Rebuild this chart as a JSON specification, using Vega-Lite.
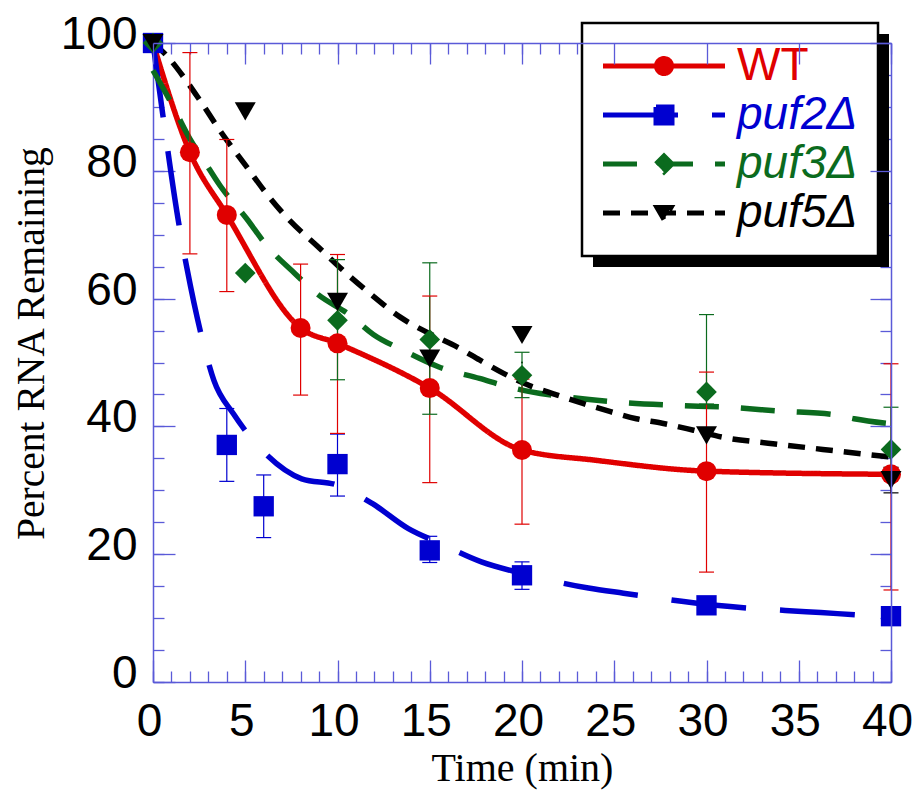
{
  "$schema": "https://vega.github.io/schema/vega-lite/v6.json",
  "width": 738,
  "height": 639,
  "autosize": {"type": "none"},
  "padding": {"left": 153, "top": 43, "right": 25, "bottom": 110},
  "background": "white",
  "config": {
    "view": {"stroke": null},
    "axis": {"grid": false, "domainColor": "#5a5ad8", "tickColor": "#5a5ad8", "tickWidth": 1.3, "domainWidth": 1.5},
    "legend": {"strokeWidth": 2.5}
  },
  "datasets": {
    "pts": [
      {"series": "WT", "t": 0, "y": 100},
      {"series": "WT", "t": 2, "y": 82.9, "lo": 67.0, "hi": 98.5},
      {"series": "WT", "t": 4, "y": 73.1, "lo": 61.1, "hi": 84.9},
      {"series": "WT", "t": 8, "y": 55.4, "lo": 44.9, "hi": 65.4},
      {"series": "WT", "t": 10, "y": 53.0, "lo": 38.9, "hi": 66.9},
      {"series": "WT", "t": 15, "y": 46.0, "lo": 31.2, "hi": 60.4},
      {"series": "WT", "t": 20, "y": 36.3, "lo": 24.7, "hi": 47.4},
      {"series": "WT", "t": 30, "y": 33.0, "lo": 17.2, "hi": 48.5},
      {"series": "WT", "t": 40, "y": 32.5, "lo": 14.4, "hi": 49.8},
      {"series": "puf2Δ", "t": 0, "y": 100},
      {"series": "puf2Δ", "t": 4, "y": 37.1, "lo": 31.4, "hi": 42.8},
      {"series": "puf2Δ", "t": 6, "y": 27.5, "lo": 22.6, "hi": 32.4},
      {"series": "puf2Δ", "t": 10, "y": 34.1, "lo": 29.1, "hi": 38.8},
      {"series": "puf2Δ", "t": 15, "y": 20.6, "lo": 18.7, "hi": 22.8},
      {"series": "puf2Δ", "t": 20, "y": 16.7, "lo": 14.5, "hi": 18.8},
      {"series": "puf2Δ", "t": 30, "y": 12.0},
      {"series": "puf2Δ", "t": 40, "y": 10.3},
      {"series": "puf3Δ", "t": 0, "y": 100},
      {"series": "puf3Δ", "t": 5, "y": 64.0},
      {"series": "puf3Δ", "t": 10, "y": 56.6, "lo": 47.3, "hi": 66.1},
      {"series": "puf3Δ", "t": 15, "y": 53.6, "lo": 41.9, "hi": 65.6},
      {"series": "puf3Δ", "t": 20, "y": 48.0, "lo": 44.5, "hi": 51.6},
      {"series": "puf3Δ", "t": 30, "y": 45.4, "lo": 43.5, "hi": 57.5},
      {"series": "puf3Δ", "t": 40, "y": 36.4, "lo": 33.0, "hi": 43.0},
      {"series": "puf5Δ", "t": 0, "y": 100},
      {"series": "puf5Δ", "t": 5, "y": 89.3},
      {"series": "puf5Δ", "t": 10, "y": 59.5},
      {"series": "puf5Δ", "t": 15, "y": 50.6},
      {"series": "puf5Δ", "t": 20, "y": 54.3},
      {"series": "puf5Δ", "t": 30, "y": 38.6},
      {"series": "puf5Δ", "t": 40, "y": 31.6, "lo": 29.6, "hi": 33.6}
    ],
    "curves": [
      {"series": "WT", "t": 0, "y": 100},
      {"series": "WT", "t": 2, "y": 82.9},
      {"series": "WT", "t": 4, "y": 73.1},
      {"series": "WT", "t": 8, "y": 55.4},
      {"series": "WT", "t": 10, "y": 53.0},
      {"series": "WT", "t": 15, "y": 46.0},
      {"series": "WT", "t": 20, "y": 36.3},
      {"series": "WT", "t": 24, "y": 34.7},
      {"series": "WT", "t": 30, "y": 33.0},
      {"series": "WT", "t": 40, "y": 32.5},
      {"series": "puf2Δ", "t": 0, "y": 100},
      {"series": "puf2Δ", "t": 0.54, "y": 88.6},
      {"series": "puf2Δ", "t": 1.46, "y": 70.7},
      {"series": "puf2Δ", "t": 1.83, "y": 64.9},
      {"series": "puf2Δ", "t": 2.71, "y": 53.2},
      {"series": "puf2Δ", "t": 3.3, "y": 47.2},
      {"series": "puf2Δ", "t": 4.35, "y": 42.0},
      {"series": "puf2Δ", "t": 5.26, "y": 38.4},
      {"series": "puf2Δ", "t": 6.07, "y": 35.8},
      {"series": "puf2Δ", "t": 8.06, "y": 31.8},
      {"series": "puf2Δ", "t": 10, "y": 30.8},
      {"series": "puf2Δ", "t": 11.9, "y": 27.9},
      {"series": "puf2Δ", "t": 13.84, "y": 24.0},
      {"series": "puf2Δ", "t": 15.55, "y": 21.7},
      {"series": "puf2Δ", "t": 17.8, "y": 18.8},
      {"series": "puf2Δ", "t": 20, "y": 17.0},
      {"series": "puf2Δ", "t": 23.6, "y": 14.7},
      {"series": "puf2Δ", "t": 25.5, "y": 13.9},
      {"series": "puf2Δ", "t": 30.5, "y": 12.0},
      {"series": "puf2Δ", "t": 35.4, "y": 11.0},
      {"series": "puf2Δ", "t": 37.1, "y": 10.7},
      {"series": "puf2Δ", "t": 40, "y": 10.1},
      {"series": "puf3Δ", "t": 0, "y": 95.7},
      {"series": "puf3Δ", "t": 1.1, "y": 90.0},
      {"series": "puf3Δ", "t": 2.0, "y": 85.0},
      {"series": "puf3Δ", "t": 2.8, "y": 81.4},
      {"series": "puf3Δ", "t": 3.63, "y": 77.7},
      {"series": "puf3Δ", "t": 5.08, "y": 72.5},
      {"series": "puf3Δ", "t": 6.16, "y": 68.3},
      {"series": "puf3Δ", "t": 7.7, "y": 63.9},
      {"series": "puf3Δ", "t": 8.87, "y": 60.8},
      {"series": "puf3Δ", "t": 10.68, "y": 57.4},
      {"series": "puf3Δ", "t": 11.94, "y": 54.4},
      {"series": "puf3Δ", "t": 13.57, "y": 51.9},
      {"series": "puf3Δ", "t": 15.5, "y": 49.3},
      {"series": "puf3Δ", "t": 17.7, "y": 47.5},
      {"series": "puf3Δ", "t": 19.4, "y": 46.1},
      {"series": "puf3Δ", "t": 20.5, "y": 45.4},
      {"series": "puf3Δ", "t": 22.4, "y": 44.6},
      {"series": "puf3Δ", "t": 25.2, "y": 43.8},
      {"series": "puf3Δ", "t": 28.3, "y": 43.3},
      {"series": "puf3Δ", "t": 31.1, "y": 43.0},
      {"series": "puf3Δ", "t": 34.0, "y": 42.4},
      {"series": "puf3Δ", "t": 37.0, "y": 41.8},
      {"series": "puf3Δ", "t": 38.0, "y": 41.2},
      {"series": "puf3Δ", "t": 40, "y": 40.4},
      {"series": "puf5Δ", "t": 0, "y": 100},
      {"series": "puf5Δ", "t": 0.65, "y": 98.3},
      {"series": "puf5Δ", "t": 1.73, "y": 94.4},
      {"series": "puf5Δ", "t": 2.55, "y": 91.0},
      {"series": "puf5Δ", "t": 3.63, "y": 86.3},
      {"series": "puf5Δ", "t": 5.08, "y": 80.6},
      {"series": "puf5Δ", "t": 6.16, "y": 76.4},
      {"series": "puf5Δ", "t": 7.42, "y": 72.2},
      {"series": "puf5Δ", "t": 8.87, "y": 68.3},
      {"series": "puf5Δ", "t": 10.5, "y": 63.9},
      {"series": "puf5Δ", "t": 11.76, "y": 60.8},
      {"series": "puf5Δ", "t": 13.4, "y": 57.1},
      {"series": "puf5Δ", "t": 15.0, "y": 54.5},
      {"series": "puf5Δ", "t": 16.5, "y": 52.4},
      {"series": "puf5Δ", "t": 17.7, "y": 50.4},
      {"series": "puf5Δ", "t": 19.0, "y": 48.3},
      {"series": "puf5Δ", "t": 20.4, "y": 46.4},
      {"series": "puf5Δ", "t": 21.7, "y": 45.1},
      {"series": "puf5Δ", "t": 23.3, "y": 43.6},
      {"series": "puf5Δ", "t": 24.8, "y": 42.3},
      {"series": "puf5Δ", "t": 26.2, "y": 41.2},
      {"series": "puf5Δ", "t": 27.6, "y": 40.5},
      {"series": "puf5Δ", "t": 29.3, "y": 39.4},
      {"series": "puf5Δ", "t": 30.9, "y": 38.3},
      {"series": "puf5Δ", "t": 33.6, "y": 37.3},
      {"series": "puf5Δ", "t": 36.3, "y": 36.4},
      {"series": "puf5Δ", "t": 40, "y": 35.2}
    ]
  },
  "resolve": {
    "scale": {"strokeWidth": "independent"},
    "axis": {"x": "independent", "y": "independent"}
  },
  "layer": [
    {
      "data": {"name": "pts"},
      "transform": [
        {"filter": "datum.t === 0 && datum.series === 'WT'"},
        {"fold": ["series"], "as": ["k", "lab"]}
      ],
      "mark": {"type": "point", "filled": true, "color": "black", "size": 4},
      "encoding": {
        "opacity": {"field": "k", "type": "nominal",
          "scale": {"domain": ["series"], "range": [1, 1]},
          "legend": {
            "orient": "none", "legendX": 400, "legendY": -10, "title": null,
            "padding": 0, "symbolSize": 4, "symbolOffset": 39, "labelOffset": 0,
            "symbolType": "M0,0H296V233H0Z", "symbolStrokeWidth": 0,
            "symbolFillColor": "black",
            "labelExpr": "''", "labelFontSize": 1,
            "fillColor": null, "strokeColor": null
          }
        }
      }
    },
    {
      "data": {"name": "curves"},
      "mark": {"type": "line", "interpolate": "monotone", "strokeCap": "butt"},
      "encoding": {
        "x": {"field": "t", "type": "quantitative", "scale": {"domain": [0, 40], "nice": false},
          "axis": {"orient": "bottom", "values": [0, 5, 10, 15, 20, 25, 30, 35, 40], "ticks": false, "domain": true,
            "labelFont": "Liberation Sans", "labelFontSize": 46, "labelColor": "black", "labelBaseline": "alphabetic",
            "labelPadding": 53, "labelOffset": -4, "labelFlush": false, "labelOverlap": false,
            "title": "Time (min)", "titleFont": "Liberation Serif", "titleFontSize": 40, "titleFontWeight": "normal",
            "titleColor": "black", "titleBaseline": "alphabetic", "titleY": 98}},
        "y": {"field": "y", "type": "quantitative", "scale": {"domain": [0, 100], "nice": false},
          "axis": {"orient": "left", "values": [0, 20, 40, 60, 80, 100], "ticks": false, "domain": true,
            "labelFont": "Liberation Sans", "labelFontSize": 46, "labelColor": "black", "labelBaseline": "alphabetic",
            "labelPadding": 16, "labelOffset": 5.5, "labelFlush": false, "labelOverlap": false,
            "title": "Percent RNA Remaining", "titleFont": "Liberation Serif", "titleFontSize": 39.5, "titleFontWeight": "normal",
            "titleColor": "black", "titleBaseline": "alphabetic", "titleX": -110, "titleY": 300}},
        "stroke": {"field": "series", "type": "nominal",
          "scale": {"domain": ["puf5Δ", "puf3Δ", "puf2Δ", "WT"], "range": ["#000000", "#0b6b1e", "#0000d0", "#e00000"]}, "legend": null},
        "strokeDash": {"field": "series", "type": "nominal",
          "scale": {"domain": ["puf5Δ", "puf3Δ", "puf2Δ", "WT"], "range": [[17, 11], [34, 22], [75, 34], [1, 0]]}, "legend": null},
        "strokeWidth": {"field": "series", "type": "nominal",
          "scale": {"domain": ["puf5Δ", "puf3Δ", "puf2Δ", "WT"], "range": [5.5, 5.5, 6.5, 6.5]}, "legend": null}
      }
    },
    {
      "data": {"name": "pts"},
      "transform": [{"filter": "isValid(datum.lo)"}],
      "mark": {"type": "rule", "strokeCap": "butt"},
      "encoding": {
        "x": {"field": "t", "type": "quantitative",
          "axis": {"orient": "bottom", "values": [0, 5, 10, 15, 20, 25, 30, 35, 40], "labels": false, "domain": false, "tickSize": -22, "title": null}},
        "y": {"field": "lo", "type": "quantitative", "scale": {"domain": [0, 100], "nice": false},
          "axis": {"orient": "left", "values": [0, 20, 40, 60, 80, 100], "labels": false, "domain": false, "tickSize": -22, "title": null}},
        "y2": {"field": "hi"},
        "stroke": {"field": "series", "type": "nominal", "legend": null},
        "strokeWidth": {"field": "series", "type": "nominal",
          "scale": {"domain": ["puf5Δ", "puf3Δ", "puf2Δ", "WT"], "range": [1.2, 1.2, 1.2, 2.7]}, "legend": null}
      }
    },
    {
      "data": {"name": "pts"},
      "transform": [{"filter": "isValid(datum.hi)"}],
      "mark": {"type": "point", "shape": "stroke", "filled": false, "size": 225, "opacity": 1},
      "encoding": {
        "x": {"field": "t", "type": "quantitative",
          "axis": {"orient": "bottom", "values": [0,1,2,3,4,5,6,7,8,9,10,11,12,13,14,15,16,17,18,19,20,21,22,23,24,25,26,27,28,29,30,31,32,33,34,35,36,37,38,39,40], "labels": false, "domain": false, "tickSize": -11, "title": null}},
        "y": {"field": "hi", "type": "quantitative", "scale": {"domain": [0, 100], "nice": false},
          "axis": {"orient": "left", "values": [0,5,10,15,20,25,30,35,40,45,50,55,60,65,70,75,80,85,90,95,100], "labels": false, "domain": false, "tickSize": -11, "title": null}},
        "stroke": {"field": "series", "type": "nominal", "legend": null},
        "strokeWidth": {"field": "series", "type": "nominal",
          "scale": {"domain": ["puf5Δ", "puf3Δ", "puf2Δ", "WT"], "range": [1.2, 1.2, 1.2, 2.7]}, "legend": null}
      }
    },
    {
      "data": {"name": "pts"},
      "transform": [{"filter": "isValid(datum.lo)"}],
      "mark": {"type": "point", "shape": "stroke", "filled": false, "size": 225, "opacity": 1},
      "encoding": {
        "x": {"field": "t", "type": "quantitative",
          "axis": {"orient": "top", "values": [0, 5, 10, 15, 20, 25, 30, 35, 40], "labels": false, "domain": true, "tickSize": -21, "title": null, "zindex": 1}},
        "y": {"field": "lo", "type": "quantitative", "scale": {"domain": [0, 100], "nice": false},
          "axis": {"orient": "right", "values": [0, 20, 40, 60, 80, 100], "labels": false, "domain": true, "tickSize": -21, "title": null, "zindex": 1}},
        "stroke": {"field": "series", "type": "nominal", "legend": null},
        "strokeWidth": {"field": "series", "type": "nominal",
          "scale": {"domain": ["puf5Δ", "puf3Δ", "puf2Δ", "WT"], "range": [1.2, 1.2, 1.2, 2.7]}, "legend": null}
      }
    },
    {
      "data": {"name": "pts"},
      "mark": {"type": "point", "filled": true, "opacity": 1, "strokeWidth": 0},
      "encoding": {
        "x": {"field": "t", "type": "quantitative",
          "axis": {"orient": "top", "values": [0,1,2,3,4,5,6,7,8,9,10,11,12,13,14,15,16,17,18,19,20,21,22,23,24,25,26,27,28,29,30,31,32,33,34,35,36,37,38,39,40], "labels": false, "domain": false, "tickSize": -11, "title": null}},
        "y": {"field": "y", "type": "quantitative", "scale": {"domain": [0, 100], "nice": false},
          "axis": {"orient": "right", "values": [0,5,10,15,20,25,30,35,40,45,50,55,60,65,70,75,80,85,90,95,100], "labels": false, "domain": false, "tickSize": -11, "title": null}},
        "fill": {"field": "series", "type": "nominal",
          "scale": {"domain": ["puf5Δ", "puf3Δ", "puf2Δ", "WT"], "range": ["#000000", "#0b6b1e", "#0000d0", "#e00000"]}, "legend": null},
        "shape": {"field": "series", "type": "nominal",
          "scale": {"domain": ["puf5Δ", "puf3Δ", "puf2Δ", "WT"], "range": ["triangle-down", "diamond", "square", "circle"]}, "legend": null},
        "size": {"field": "series", "type": "nominal",
          "scale": {"domain": ["puf5Δ", "puf3Δ", "puf2Δ", "WT"], "range": [441, 400, 420, 314]}, "legend": null}
      }
    },
    {
      "data": {"name": "pts"},
      "mark": {"type": "point", "filled": true, "opacity": 0},
      "encoding": {
        "color": {"field": "series", "type": "nominal",
          "scale": {"domain": ["WT", "puf2Δ", "puf3Δ", "puf5Δ"], "range": ["#e00000", "#0000d0", "#0b6b1e", "#000000"]},
          "legend": {
            "orient": "none", "legendX": 429, "legendY": -20, "title": null,
            "padding": 20, "rowPadding": 3, "symbolSize": 4, "symbolOffset": 39, "labelOffset": 50,
            "symbolOpacity": 1, "symbolStrokeWidth": 5,
            "symbolType": {"expr": "datum.value === 'WT' ? 'M-61,0H61M-7.5,0A7.5,7.5 0 1,1 7.5,0A7.5,7.5 0 1,1 -7.5,0Z' : datum.value === 'puf2Δ' ? 'M-61,0H61M-8,-8H8V8H-8Z' : datum.value === 'puf3Δ' ? 'M-61,0H61M-8,0L0,-8L8,0L0,8Z' : 'M-61,0H61M-7,-5.5H7L0,6.5Z'"},
            "symbolStrokeColor": {"expr": "datum.value === 'WT' ? '#e00000' : datum.value === 'puf2Δ' ? '#0000d0' : datum.value === 'puf3Δ' ? '#0b6b1e' : '#000000'"},
            "symbolDash": {"expr": "datum.value === 'puf2Δ' ? [75, 34] : datum.value === 'puf3Δ' ? [34, 22] : datum.value === 'puf5Δ' ? [17, 11] : [1, 0]"},
            "labelFont": "Liberation Sans", "labelFontSize": 46, "labelLimit": 400, "labelExpr": "datum.label + '\u00a0\u00a0\u00a0'",
            "labelColor": {"expr": "datum.value === 'WT' ? '#e00000' : datum.value === 'puf2Δ' ? '#0000d0' : datum.value === 'puf3Δ' ? '#0b6b1e' : '#000000'"},
            "labelFontStyle": {"expr": "datum.value === 'WT' ? 'normal' : 'italic'"},
            "fillColor": "white", "strokeColor": "black"
          }
        }
      }
    }
  ]
}
